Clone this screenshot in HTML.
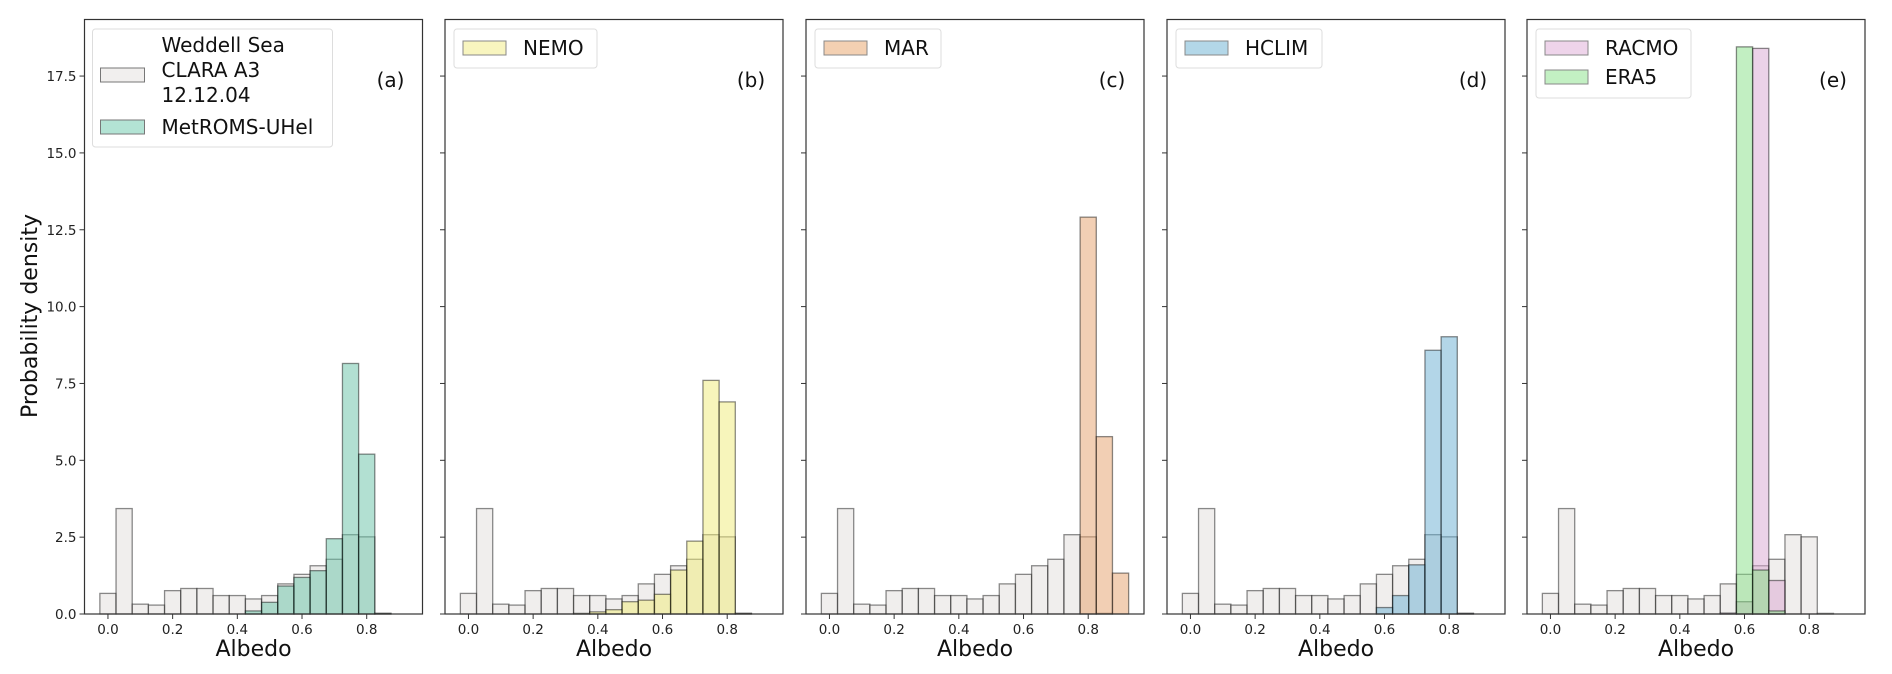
<!DOCTYPE html>
<html><head><meta charset="utf-8"><style>
html,body{margin:0;padding:0;background:#fff;width:1892px;height:674px;overflow:hidden}
svg{display:block;font-family:"DejaVu Sans","Liberation Sans",sans-serif}
</style></head><body>
<svg id="chart" width="1892" height="674"></svg>
<script>
const binCenters=[0,0.05,0.1,0.15,0.2,0.25,0.3,0.35,0.4,0.45,0.5,0.55,0.6,0.65,0.7,0.75,0.8,0.85,0.9];
const clara=[0.67,3.43,0.32,0.29,0.76,0.83,0.83,0.6,0.6,0.49,0.6,0.98,1.29,1.57,1.78,2.58,2.51,0.02,0];
const metroms=[0,0,0,0,0,0,0,0,0,0.1,0.38,0.91,1.19,1.41,2.45,8.15,5.2,0.02,0];
const nemo=[0,0,0,0,0,0,0,0.02,0.07,0.14,0.4,0.45,0.64,1.43,2.37,7.6,6.9,0.02,0];
const mar=[0,0,0,0,0,0,0,0,0,0,0,0,0,0,0,0,12.91,5.77,1.33];
const hclim=[0,0,0,0,0,0,0,0,0,0,0,0,0.21,0.6,1.6,8.58,9.02,0.02,0];
const racmo=[0,0,0,0,0,0,0,0,0,0,0,0.03,0.4,18.4,1.09,0,0,0,0];
const era5=[0,0,0,0,0,0,0,0,0,0,0,0,18.45,1.43,0.1,0,0,0,0];
const yTicks=[0,2.5,5,7.5,10,12.5,15,17.5];
const yTickLabels=["0.0","2.5","5.0","7.5","10.0","12.5","15.0","17.5"];
const xTicks=[0,0.2,0.4,0.6,0.8];
const xTickLabels=["0.0","0.2","0.4","0.6","0.8"];

const NS="http://www.w3.org/2000/svg";
const svg=document.getElementById('chart');
function mk(tag,attrs,parent){const e=document.createElementNS(NS,tag);for(const k in attrs)e.setAttribute(k,attrs[k]);(parent||svg).appendChild(e);return e;}
const panelLefts=[84.5,445,806,1167,1527];
const PW=338,PT=19.5,PB=614;
const X0=-0.0725,X1=0.9725,Y1=19.34,BW=0.05;
const panels=[
 {tag:"(a)",series:[{name:"MetROMS-UHel",data:metroms,color:"rgba(102,194,165,0.5)"}]},
 {tag:"(b)",series:[{name:"NEMO",data:nemo,color:"rgba(240,235,120,0.5)"}]},
 {tag:"(c)",series:[{name:"MAR",data:mar,color:"rgba(230,160,106,0.5)"}]},
 {tag:"(d)",series:[{name:"HCLIM",data:hclim,color:"rgba(103,174,209,0.5)"}]},
 {tag:"(e)",series:[{name:"RACMO",data:racmo,color:"rgba(217,166,209,0.5)"},{name:"ERA5",data:era5,color:"rgba(134,223,134,0.5)"}]}
];
const claraColor="rgba(226,221,219,0.5)";
panels.forEach((p,pi)=>{
  const L=panelLefts[pi];
  const xs=v=>L+(v-X0)/(X1-X0)*PW;
  const ys=v=>PB-v/Y1*(PB-PT);
  const g=mk('g',{});
  
  
  const drawSeries=(data,color,name)=>{
    data.forEach((v,i)=>{
      if(v<=0)return;
      const r=mk('rect',{x:xs(binCenters[i]-BW/2),y:ys(v),width:xs(binCenters[i]+BW/2)-xs(binCenters[i]-BW/2),height:PB-ys(v),fill:color,stroke:"rgba(0,0,0,0.45)","stroke-width":1.3},g);
      
      
    });
  };
  drawSeries(clara,claraColor,'clara');
  p.series.forEach(s=>drawSeries(s.data,s.color,s.name.toLowerCase()));
  const fr=mk('rect',{x:L,y:PT,width:PW,height:PB-PT,fill:"none",stroke:"#333","stroke-width":1.2},g);
  
  
  yTicks.forEach((t,i)=>{
    mk('line',{x1:L-5,x2:L,y1:ys(t),y2:ys(t),stroke:"#333","stroke-width":1},g);
    if(pi===0){const tx=mk('text',{x:L-8,y:ys(t)+5,"text-anchor":"end","font-size":13.5,fill:"#222"},g);tx.textContent=yTickLabels[i];
      
      }
  });
  xTicks.forEach((t,i)=>{
    mk('line',{x1:xs(t),x2:xs(t),y1:PB,y2:PB+5,stroke:"#333","stroke-width":1},g);
    const tx=mk('text',{x:xs(t),y:PB+20,"text-anchor":"middle","font-size":13.5,fill:"#222"},g);tx.textContent=xTickLabels[i];
    
    
  });
  const xl=mk('text',{x:L+PW/2,y:656,"text-anchor":"middle","font-size":22,fill:"#111"},g);xl.textContent="Albedo";
  
  
  const tg=mk('text',{x:L+PW-32,y:87,"text-anchor":"middle","font-size":20,fill:"#111"},g);tg.textContent=p.tag;
  
  
  const lg=mk('g',{},g);
  
  
  if(pi===0){
    mk('rect',{x:L+8,y:29,width:240,height:118,rx:3,fill:"#fff",stroke:"#ddd","stroke-width":1},lg);
    mk('rect',{x:L+16,y:68,width:44,height:14,fill:"#f1efee",stroke:"#777","stroke-width":1},lg);
    ["Weddell Sea","CLARA A3","12.12.04"].forEach((s,k)=>{const t=mk('text',{x:L+77,y:52+k*25,"font-size":20,fill:"#111"},lg);t.textContent=s;});
    mk('rect',{x:L+16,y:120,width:44,height:14,fill:"#b3e3d4",stroke:"#777","stroke-width":1},lg);
    const t=mk('text',{x:L+77,y:134,"font-size":20,fill:"#111"},lg);t.textContent="MetROMS-UHel";
  } else {
    const fills={NEMO:"#f8f5bf",MAR:"#f3d0b2",HCLIM:"#b3d7e8",RACMO:"#eed4ea",ERA5:"#c3f0c3"};
    const n=p.series.length;
    const w=pi===1?143:pi===2?126:pi===3?146:155;
    mk('rect',{x:L+9,y:29,width:w,height:n===1?39:69,rx:3,fill:"#fff",stroke:"#ddd","stroke-width":1},lg);
    p.series.forEach((s,k)=>{
      mk('rect',{x:L+18,y:41+k*29,width:43,height:14,fill:fills[s.name],stroke:"#888","stroke-width":1},lg);
      const t=mk('text',{x:L+78,y:55+k*29,"font-size":20,fill:"#111"},lg);t.textContent=s.name;
    });
  }
});
const yl=mk('text',{x:0,y:0,"text-anchor":"middle","font-size":22,fill:"#111",transform:"translate(37,316) rotate(-90)"});
yl.textContent="Probability density";


</script>
</body></html>
